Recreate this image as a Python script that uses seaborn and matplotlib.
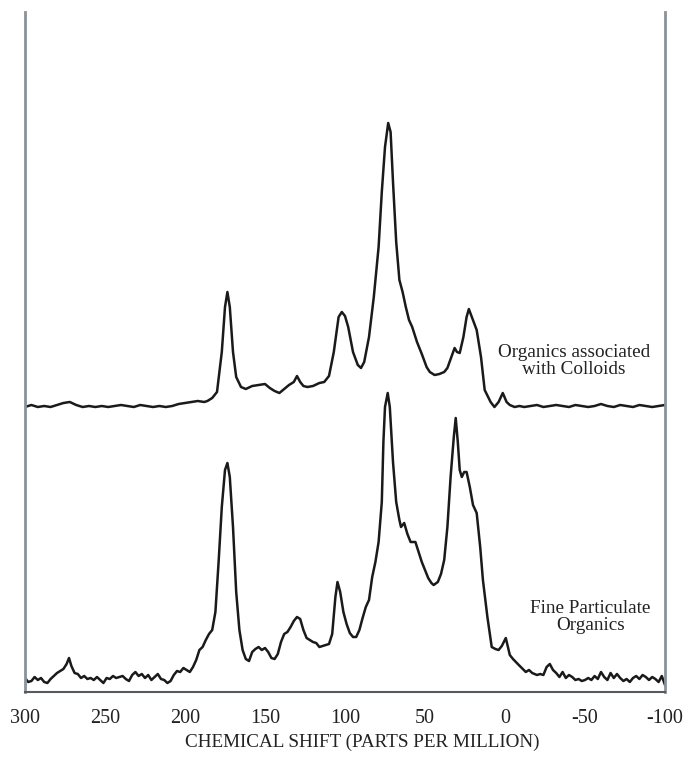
import numpy as np
import pandas as pd
import seaborn as sns
import matplotlib.pyplot as plt

# upper trace: organics associated with colloids (ppm, intensity)
colloid_ppm = [300, 296, 292, 288, 284, 280, 276, 272, 268, 264, 260, 256, 252, 248, 244, 240,
               236, 232, 228, 224, 220, 216, 212, 208, 204, 200, 196, 192, 188, 186, 183, 180,
               177, 175, 173.5, 172, 170, 168, 165, 162, 158, 154, 150, 147, 144, 141, 138, 135,
               132, 130, 128, 126, 123.5, 120, 116, 113, 110, 107, 104, 102, 100, 98, 95, 92,
               90, 88, 85, 82, 79, 77, 75, 73, 71.5, 70, 68, 66, 64, 62, 60, 58, 55, 52, 49,
               47, 44, 41, 38, 36, 34, 31.5, 30, 28.3, 26, 24, 22.6, 20, 17.7, 15, 12.7, 9, 6.6,
               4, 1.4, -1, -3, -6, -9, -12, -16, -20, -24, -28, -32, -36, -40, -44, -48, -52, -56,
               -60, -64, -68, -72, -76, -80, -84, -88, -92, -96, -100]
colloid_int = [285, 287, 285, 286, 285, 287, 289, 290, 287, 285, 286, 285, 286, 285, 286, 287,
               286, 285, 287, 286, 285, 286, 285, 286, 288, 289, 290, 291, 290, 291, 294, 300,
               340, 385, 400, 385, 340, 315, 305, 303, 306, 307, 308, 304, 301, 299, 303, 307,
               310, 316, 310, 306, 305, 306, 309, 310, 316, 340, 375, 380, 376, 365, 340, 327,
               324, 330, 355, 395, 445, 500, 545, 569, 560, 510, 450, 412, 400, 385, 372, 365,
               350, 338, 325, 320, 317, 318, 320, 324, 333, 344, 340, 339, 355, 375, 383, 372,
               362, 335, 302, 290, 285, 290, 299, 290, 287, 285, 286, 285, 286, 287,
               285, 286, 287, 286, 285, 287, 286, 285, 286, 288, 286, 285, 287, 286, 285, 287,
               286, 285, 286, 287]

# lower trace: fine particulate organics
fine_ppm = [300, 298, 296, 294, 292, 290, 288, 286, 284, 282,
            280, 278, 276, 274, 272.5, 271, 269, 267, 265, 263,
            261, 259, 257, 255, 253, 251, 249, 247, 245, 243,
            241, 239, 237, 235, 233, 231, 229, 227, 225, 223,
            221, 219, 217, 215, 213, 211, 209, 207, 205, 203,
            201, 199, 197, 195, 193, 191, 189, 187, 185, 183,
            181, 179, 177, 175, 173.5, 172, 170, 168, 166, 164,
            162, 160, 158, 156, 154, 152, 150, 148, 146, 144,
            142, 140, 138, 136, 134, 132, 130, 128, 126, 124,
            122, 120, 118, 116, 114, 112, 110, 108, 106, 104.7,
            103, 101, 99, 97, 95, 93, 91, 89, 87, 85,
            83, 81, 79, 77, 76, 75, 73.3, 72, 70, 68,
            66, 65, 63, 61, 59, 56, 54, 52, 50, 48,
            46, 44.6, 42, 40, 38, 36, 34, 32, 30.8, 29.5,
            28.3, 27, 25.5, 24, 22, 20, 17.7, 15.5, 13.8, 11,
            8.3, 6, 4, 2, -0.5, -3, -5, -8, -10.5, -13,
            -15, -17, -20, -22, -24, -26, -28, -30, -32, -34,
            -36, -38, -40, -42, -44, -46, -48, -50, -52, -54,
            -56, -58, -60, -62, -64, -66, -68, -70, -72, -74,
            -76, -78, -80, -82, -84, -86, -88, -90, -92, -94,
            -96, -98, -100]
fine_int = [14, 10, 11, 15, 12, 14, 10, 9, 13, 16,
            19, 21, 23, 28, 34, 26, 19, 18, 14, 16,
            13, 14, 12, 15, 12, 9, 14, 13, 16, 14,
            15, 16, 13, 11, 17, 20, 16, 18, 14, 17,
            12, 15, 18, 13, 12, 9, 11, 17, 21, 20,
            24, 22, 20, 25, 32, 42, 45, 52, 58, 62,
            80, 130, 185, 222, 229, 215, 165, 100, 62, 42,
            33, 31, 40, 43, 45, 42, 44, 40, 34, 33,
            38, 50, 58, 60, 65, 71, 75, 73, 62, 54,
            52, 50, 49, 45, 46, 47, 48, 58, 95, 110,
            100, 80, 68, 59, 55, 55, 62, 74, 85, 92,
            115, 130, 150, 190, 250, 285, 299, 285, 230, 190,
            172, 165, 169, 158, 150, 150, 140, 130, 122, 114,
            109, 107, 110, 118, 132, 165, 215, 255, 274, 250,
            222, 215, 220, 220, 205, 187, 179, 145, 112, 75,
            45, 43, 42, 46, 54, 37, 33, 28, 24, 20,
            22, 19, 17, 18, 17, 25, 28, 22, 19, 15,
            20, 14, 17, 15, 12, 13, 11, 12, 14, 12,
            16, 13, 20, 15, 12, 19, 14, 18, 14, 11,
            13, 10, 14, 16, 13, 17, 15, 12, 15, 13,
            10, 16, 7]

tick_vals = [300, 250, 200, 150, 100, 50, 0, -50, -100]

sns.set_style("white")
plt.rcParams['font.family'] = ['Liberation Serif', 'DejaVu Serif']

fig = plt.figure(figsize=(6.87, 7.59), dpi=100)
ax = fig.add_axes([25 / 687, 1 - 692 / 759, 640 / 687, 680 / 759])

upper = pd.DataFrame({'ppm': colloid_ppm, 'intensity': colloid_int})
lower = pd.DataFrame({'ppm': fine_ppm, 'intensity': fine_int})
sns.lineplot(data=upper, x='ppm', y='intensity', ax=ax, color='#1a1a1a', linewidth=1.8)
sns.lineplot(data=lower, x='ppm', y='intensity', ax=ax, color='#1a1a1a', linewidth=1.8)

ax.set_xlim(300, -100)
ax.set_ylim(0, 680)
ax.set_yticks([])
ax.set_ylabel('')
ax.set_xticks(tick_vals)
ax.set_xticklabels([str(t) for t in tick_vals], fontsize=14.5, color='#222222')
ax.tick_params(axis='x', direction='in', length=6, width=1.2, color='#555a5e', pad=12.5)
ax.set_xlabel('CHEMICAL SHIFT (PARTS PER MILLION)', fontsize=13.8, color='#222222')
ax.xaxis.set_label_coords(0.527, -0.061)

for side in ['left', 'right']:
    ax.spines[side].set_color('#8a9399')
    ax.spines[side].set_linewidth(2)
ax.spines['top'].set_visible(False)
ax.spines['bottom'].set_color('#555a5e')
ax.spines['bottom'].set_linewidth(1.5)

ax.text(-43, 331, 'Organics associated\nwith Colloids', ha='center', va='center',
        fontsize=13.8, color='#222222', linespacing=1.05)
ax.text(-53.5, 75, 'Fine Particulate\nOrganics', ha='center', va='center',
        fontsize=13.8, color='#222222', linespacing=1.05)

fig.savefig('out.png', dpi=100)
